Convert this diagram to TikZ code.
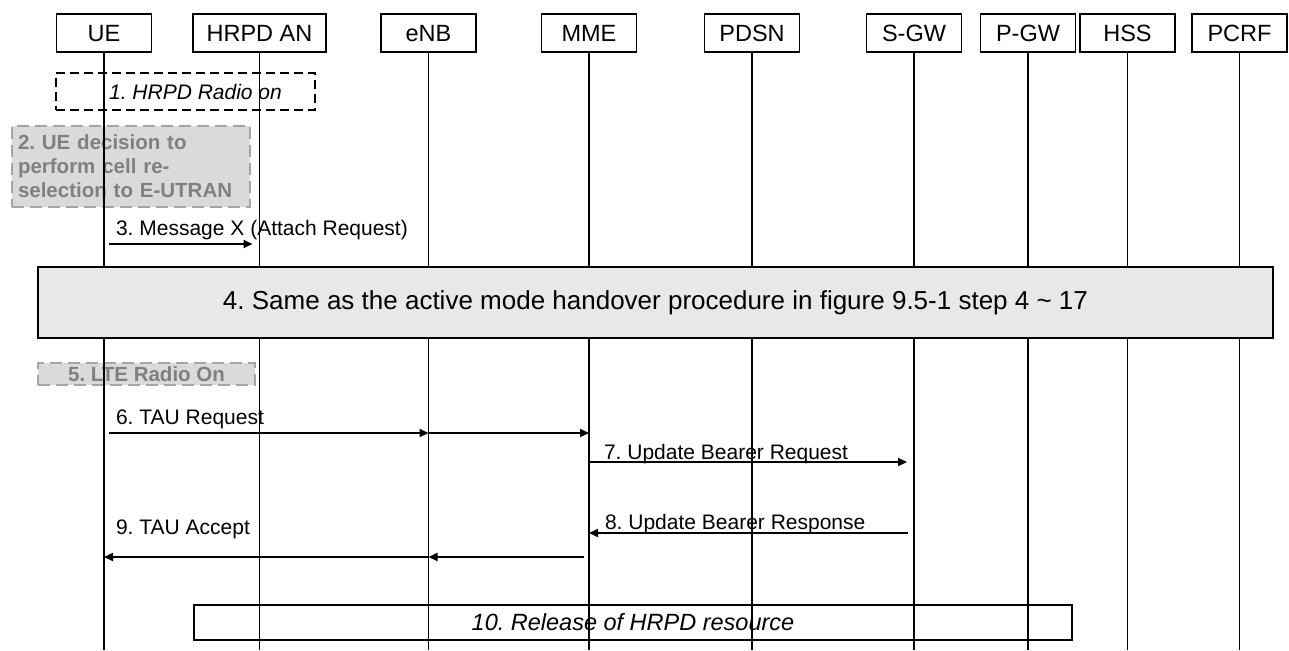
\documentclass[tikz,border=0pt]{standalone}
\usepackage{fontspec}
\setmainfont{Liberation Sans}
\usepackage{tikz}
\usetikzlibrary{arrows.meta, positioning, backgrounds}
\definecolor{notefill}{RGB}{218,218,218}
\definecolor{noteline}{RGB}{165,165,165}
\definecolor{notetext}{RGB}{128,128,128}
\definecolor{procfill}{RGB}{232,232,232}
\frenchspacing

\begin{document}
\begin{tikzpicture}[
  x=1pt, y=-1pt,
  entity/.style={
    draw, line width=1.8pt, inner sep=0pt, text height=19pt, text depth=1pt,
    minimum width=95pt, minimum height=38pt, font=\fontsize{23.5}{27}\selectfont
  },
  life/.style={line width=1.9pt},
  msg/.style={-{Triangle[length=9pt, width=8pt]}, line width=2.1pt},
  lbl/.style={font=\fontsize{21}{24}\selectfont, inner sep=0pt, anchor=base west},
  radio/.style={draw, line width=2.2pt, dash pattern=on 9pt off 5pt, inner sep=0pt},
  note/.style={
    draw=noteline, fill=notefill, text=notetext, line width=2.6pt,
    dash pattern=on 12pt off 6pt, inner sep=0pt,
    font=\bfseries\fontsize{20.5}{24}\selectfont
  }
]
  \useasboundingbox (0,0) rectangle (1289,650);
  \coordinate (bottom) at (0,650);

  \node[entity] (ue) at (104,33) {UE};
  \node[entity, minimum width=133pt] (hrpd) at (259.5,33) {HRPD AN};
  \node[entity] (enb) at (428.5,33) {eNB};
  \node[entity] (mme) at (589,33) {MME};
  \node[entity] (pdsn) at (752,33) {PDSN};
  \node[entity] (sgw) at (914,33) {S-GW};
  \node[entity] (pgw) at (1028,33) {P-GW};
  \node[entity] (hss) at (1127.5,33) {HSS};
  \node[entity] (pcrf) at (1239.5,33) {PCRF};

  \draw[life] (ue.south) -- (ue |- bottom);
  \draw[life] (hrpd.south) -- (hrpd |- bottom);
  \draw[life] (enb.south) -- (enb |- bottom);
  \draw[life] (mme.south) -- (mme |- bottom);
  \draw[life] (pdsn.south) -- (pdsn |- bottom);
  \draw[life] (sgw.south) -- (sgw |- bottom);
  \draw[life] (pgw.south) -- (pgw |- bottom);
  \draw[life] (hss.south) -- (hss |- bottom);
  \draw[life] (pcrf.south) -- (pcrf |- bottom);

  \node[radio, minimum width=259pt, minimum height=37pt] (hrpdon) at (185.5,91.5)
    {\fontsize{21}{24}\itshape\selectfont\hspace*{20pt}1. HRPD Radio on};
  \begin{scope}[on background layer]
    \node[note, minimum width=238pt, minimum height=81pt, text width=226pt, align=left]
      (decide) at (131,166.5) {2. UE decision to\\perform cell re-\\selection to E-UTRAN};
    \node[note, minimum width=217pt, minimum height=22pt] (lteon) at (146.5,374)
      {5. LTE Radio On};
  \end{scope}

  \coordinate (r3) at (0,244);
  \coordinate (r6) at (0,433);
  \coordinate (r7) at (0,462);
  \coordinate (r8) at (0,533);
  \coordinate (r9) at (0,557);

  \draw[msg, shorten <=5pt, shorten >=7pt] (ue |- r3) -- (hrpd |- r3)
    node[lbl, pos=0, xshift=11pt, yshift=8.5pt] {3. Message X (Attach Request)};

  \node[draw, fill=procfill, line width=1.8pt, minimum width=1235pt, minimum height=71pt,
    font=\fontsize{26}{30}\selectfont] (handover) at (655.5,302.5)
    {4. Same as the active mode handover procedure in figure 9.5-1 step 4 \textasciitilde{} 17};

  \draw[msg, shorten <=5pt] (ue |- r6) -- (enb |- r6)
    node[lbl, pos=0, xshift=11pt, yshift=8.5pt] {6. TAU Request};
  \draw[msg] (enb |- r6) -- (mme |- r6);
  \draw[msg, shorten >=7pt] (mme |- r7) -- (sgw |- r7)
    node[lbl, pos=0, xshift=14pt, yshift=2.5pt] {7. Update Bearer Request};
  \draw[msg, shorten <=6pt] (sgw |- r8) -- (mme |- r8)
    node[lbl, pos=1, xshift=15pt, yshift=3.5pt] {8. Update Bearer Response};
  \draw[msg, shorten <=5pt] (mme |- r9) -- (enb |- r9);
  \draw[msg] (enb |- r9) -- (ue |- r9)
    node[lbl, pos=1, xshift=11pt, yshift=22.5pt] {9. TAU Accept};

  \node[draw, line width=1.8pt, minimum width=878pt, minimum height=35pt,
    font=\fontsize{23.5}{27}\itshape\selectfont] (release) at (633,622.5)
    {10. Release of HRPD resource};
\end{tikzpicture}
\end{document}
